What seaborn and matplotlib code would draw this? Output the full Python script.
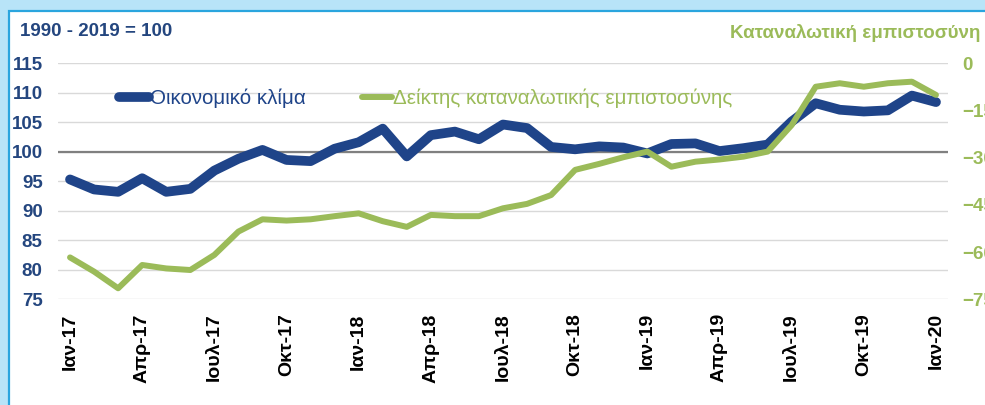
"""Economic climate vs consumer confidence, Greece 2017-2020."""

import matplotlib
matplotlib.use("Agg")
import matplotlib.pyplot as plt
from matplotlib.patches import Rectangle
import pandas as pd
import seaborn as sns

# Monthly values, Jan-17 .. Jan-20
economic_climate = [95.3, 93.6, 93.2, 95.5, 93.2, 93.7, 96.8, 98.8, 100.3, 98.6,
                    98.4, 100.5, 101.6, 103.9, 99.2, 102.8, 103.4, 102.1, 104.6, 104.0,
                    100.8, 100.4, 100.9, 100.7, 99.7, 101.3, 101.4, 100.1, 100.6, 101.2,
                    105.1, 108.2, 107.1, 106.8, 107.0, 109.5, 108.4]
consumer_confidence = [-61.7, -66.2, -71.5, -64.1, -65.2, -65.7, -60.9, -53.5, -49.6, -50.0,
                       -49.6, -48.6, -47.7, -50.2, -52.0, -48.2, -48.6, -48.6, -46.1, -44.7,
                       -41.9, -33.9, -32.0, -29.9, -28.1, -32.9, -31.3, -30.6, -29.7, -28.1,
                       -19.7, -7.5, -6.4, -7.5, -6.4, -5.9, -10.1]
tick_labels = ["Ιαν-17", "Απρ-17", "Ιουλ-17", "Οκτ-17", "Ιαν-18", "Απρ-18", "Ιουλ-18",
               "Οκτ-18", "Ιαν-19", "Απρ-19", "Ιουλ-19", "Οκτ-19", "Ιαν-20"]
left_ticks = [75, 80, 85, 90, 95, 100, 105, 110, 115]
right_ticks = [-75, -60, -45, -30, -15, 0]

BLUE = "#1F4489"
GREEN = "#9BBB59"
NAVY_TEXT = "#24467F"

sns.set_theme(style="white")
plt.rcParams["font.family"] = ["Liberation Sans", "DejaVu Sans"]

df = pd.DataFrame({
    "month": range(len(economic_climate)),
    "climate": economic_climate,
    "consumer": consumer_confidence,
})

W, H = 985, 405
fig = plt.figure(figsize=(W / 100, H / 100), dpi=100)
fig.patch.set_facecolor("#B8E4F8")
# white panel with the blue frame line (only left/top visible in the crop)
fig.add_artist(Rectangle((8.5 / W, -0.1), 1.2, 1.1 - 11 / H, transform=fig.transFigure,
                         facecolor="white", edgecolor="#2AA5DE", linewidth=1.6, zorder=-10))

ax = fig.add_axes([58 / W, 1 - 299.3 / H, 890 / W, 236.2 / H])
ax.set_facecolor("white")
ax2 = ax.twinx()

sns.lineplot(data=df, x="month", y="climate", ax=ax, color=BLUE, linewidth=7,
             solid_joinstyle="round", solid_capstyle="round", label="Οικονομικό κλίμα",
             legend=False)
sns.lineplot(data=df, x="month", y="consumer", ax=ax2, color=GREEN, linewidth=4.3,
             solid_joinstyle="round", solid_capstyle="round",
             label="Δείκτης καταναλωτικής εμπιστοσύνης", legend=False)

ax.set_xlim(-0.5, len(df) - 0.5)
ax.set_ylim(75, 115)
ax2.set_ylim(-75, 0)
ax.set_yticks(left_ticks)
ax2.set_yticks(right_ticks)
ax.set_xticks(df["month"][::3])
ax.set_xticklabels(tick_labels, rotation=90, fontsize=14, fontweight="bold", color="black")

ax.grid(axis="y", color="#D9D9D9", linewidth=1)
ax.grid(axis="x", visible=False)
ax2.grid(False)
ax.axhline(100, color="#808080", linewidth=1.6, zorder=1)

for a in (ax, ax2):
    for s in a.spines.values():
        s.set_visible(False)
    a.set_xlabel("")
    a.set_ylabel("")

ax.tick_params(axis="y", length=0, pad=11, labelsize=13.5, labelcolor=NAVY_TEXT)
ax.tick_params(axis="x", length=0, pad=10)
ax2.tick_params(axis="y", length=0, pad=10, labelsize=13.5, labelcolor=GREEN)
for lbl in ax.get_yticklabels() + ax2.get_yticklabels():
    lbl.set_fontweight("bold")

handles = ax.get_lines()[:1] + ax2.get_lines()[:1]
leg = ax2.legend(handles, [h.get_label() for h in handles], loc="center left",
                 bbox_to_anchor=(119 / W, 1 - 98 / H), bbox_transform=fig.transFigure,
                 ncol=2, frameon=False, fontsize=14.8, handlelength=1.45, handletextpad=0.05,
                 columnspacing=2.75, labelcolor="linecolor", borderaxespad=0, borderpad=0)

fig.text(20 / W, 1 - 32 / H, "1990 - 2019 = 100", fontsize=13.5, fontweight="bold",
         color=NAVY_TEXT, va="center", ha="left")
fig.text(730 / W, 1 - 33 / H, "Καταναλωτική εμπιστοσύνη", fontsize=13.5, fontweight="bold",
         color=GREEN, va="center", ha="left")

fig.savefig("out.png", dpi=100, facecolor=fig.get_facecolor())
plt.close(fig)
